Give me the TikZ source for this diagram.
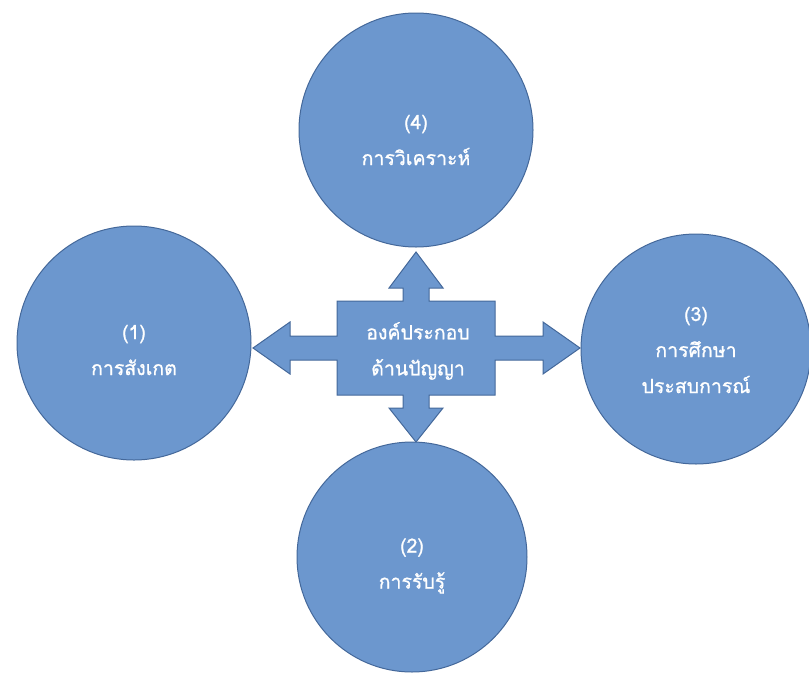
\documentclass[tikz,border=0pt]{standalone}
\usepackage{fontspec}
\newfontfamily\thaifont[Script=Thai,FakeBold=1]{Loma}
\definecolor{shapefill}{RGB}{108,151,206}
\definecolor{shapeline}{RGB}{68,104,154}
\begin{document}
\begin{tikzpicture}[x=1pt,y=-1pt,
  bubble/.style={circle,fill=shapefill,draw=shapeline,line width=1pt,
    inner sep=0pt,minimum size=#1},
  label text/.style={text=white,font=\thaifont\fontsize{19.5}{36}\selectfont,
    align=center},
  hub/.style={fill=shapefill,draw=shapeline,line width=1pt,line join=miter}]
\useasboundingbox (0,0) rectangle (809,675);

% central cross with four arrowheads
\draw[hub] (337,301) -- (403,301) -- (403,288) -- (389,288) -- (416,252)
  -- (443,288) -- (429,288) -- (429,301) -- (495,301) -- (495,336)
  -- (543,336) -- (543,322) -- (580,348) -- (543,374) -- (543,360)
  -- (495,360) -- (495,395) -- (429,395) -- (429,408) -- (443,408)
  -- (416,442) -- (389,408) -- (403,408) -- (403,395) -- (337,395)
  -- (337,360) -- (290,360) -- (290,374) -- (253,348) -- (290,322)
  -- (290,336) -- (337,336) -- cycle;
\node[label text] (core) at (418,351) {องค์ประกอบ\\ด้านปัญญา};

% the four surrounding circles
\node[bubble=234pt] (c4) at (416,130) {};
\node[bubble=234pt] (c1) at (134,343) {};
\node[bubble=230pt] (c3) at (696,349) {};
\node[bubble=230pt] (c2) at (412,557) {};

\node[label text] (t4) at ([yshift=-10pt]c4) {(4)\\การวิเคราะห์};
\node[label text] (t1) at ([yshift=-7pt]c1) {(1)\\การสังเกต};
\node[label text] (t3) at ([yshift=-1pt]c3) {(3)\\การศึกษา\\ประสบการณ์};
\node[label text] (t2) at ([yshift=-9pt]c2) {(2)\\การรับรู้};
\end{tikzpicture}
\end{document}
